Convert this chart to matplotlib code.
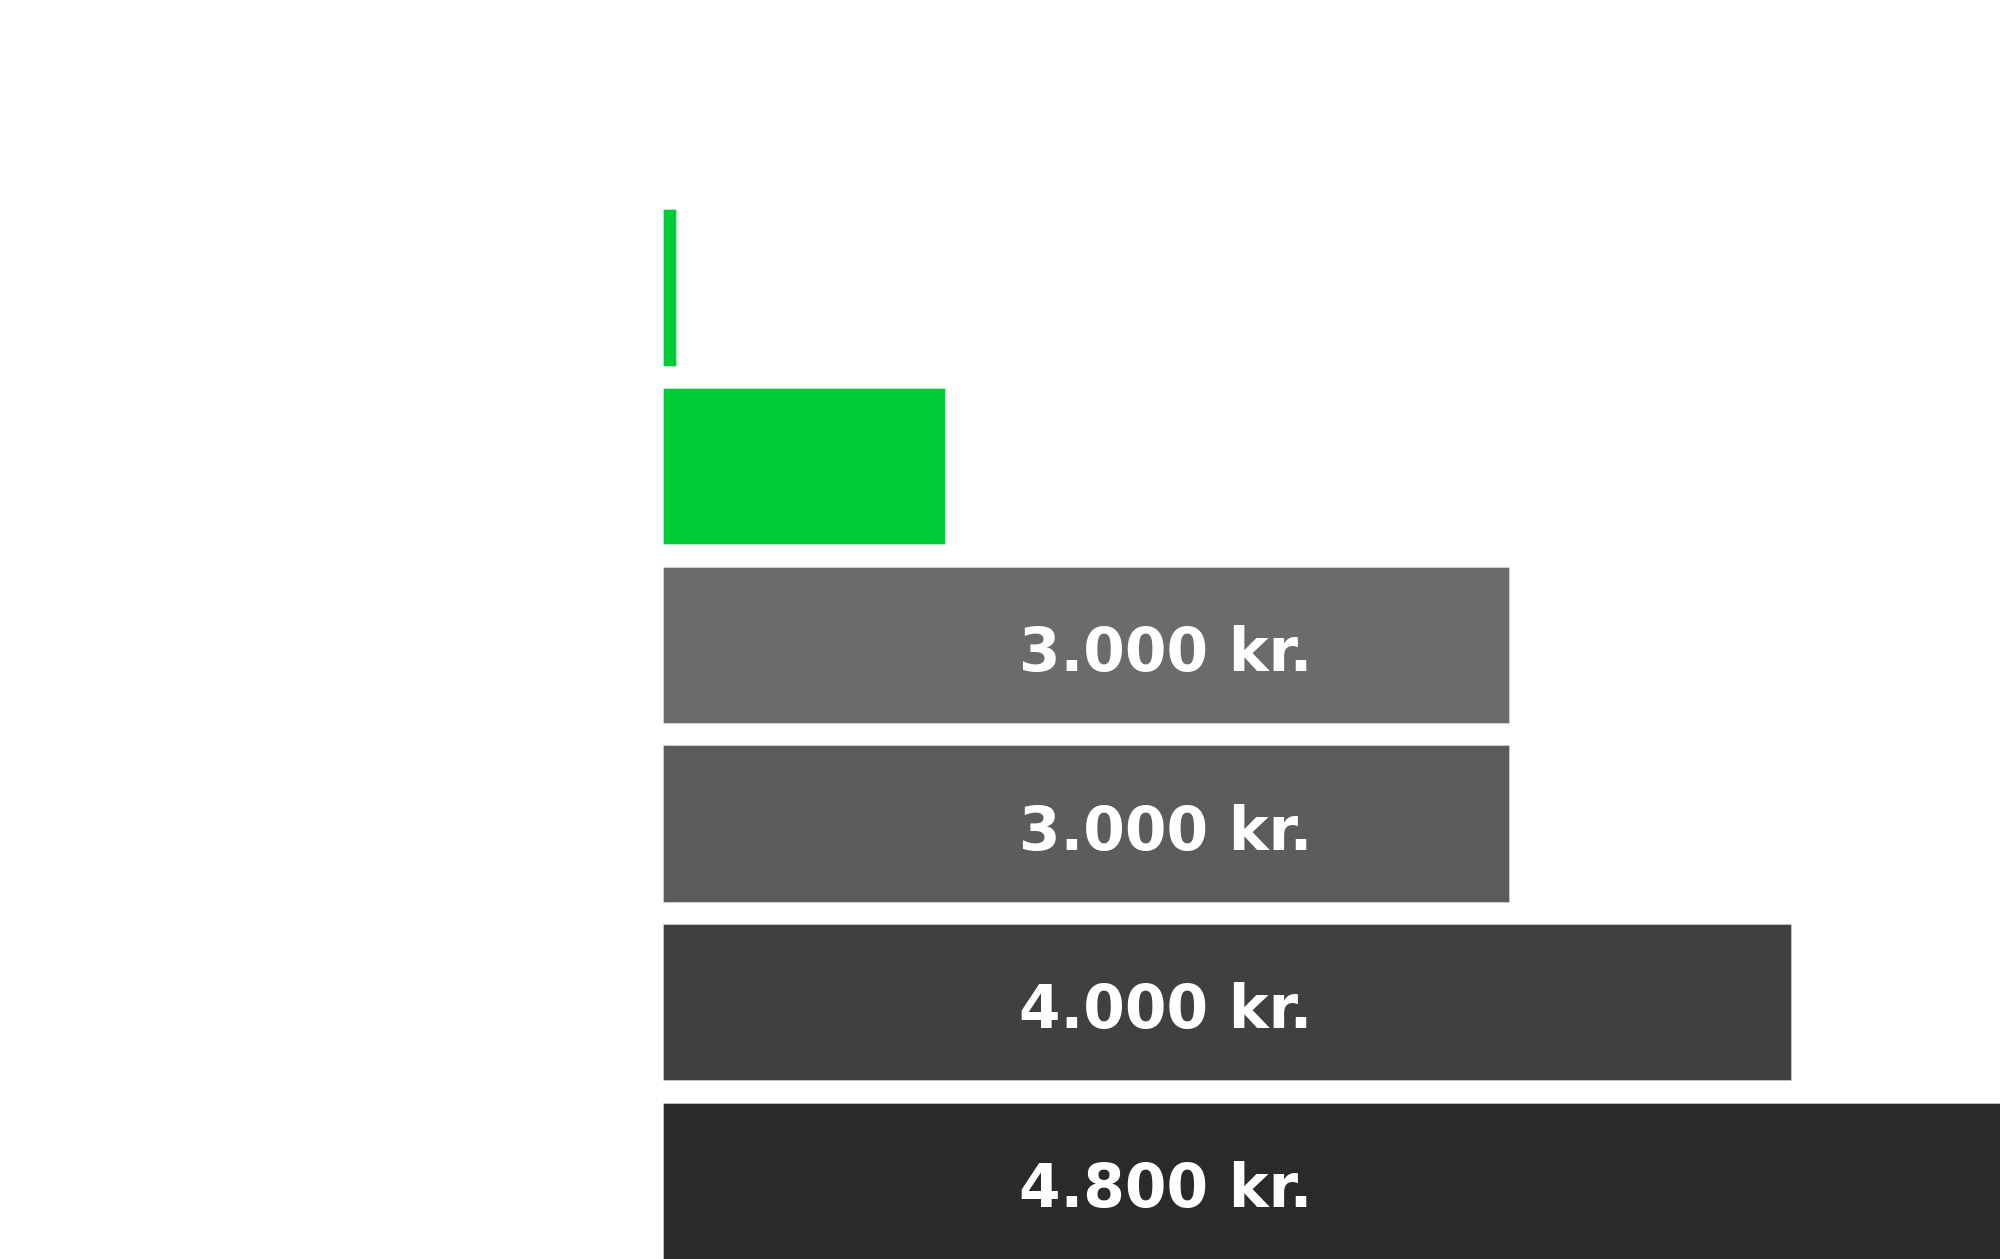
import matplotlib
matplotlib.use('Agg')
import matplotlib.pyplot as plt

# data
values = [45, 1000, 3000, 3000, 4000, 4800]
labels = ['', '', '3.000 kr.', '3.000 kr.', '4.000 kr.', '4.800 kr.']
colors = ['#00CC38', '#00CC38', '#6B6B6B', '#5C5C5C', '#404040', '#2A2A2A']

LABEL_X = 1262          # all labels start at the same x
BAR_H = 0.875

fig = plt.figure(figsize=(20, 12.59), dpi=100)
ax = fig.add_axes([0.3315, 0.0, 0.705, 1.0])

pos = list(range(len(values)))
ax.barh(pos, values, height=BAR_H, color=colors,
        edgecolor=(1, 1, 1, 0.35), linewidth=0.8)

for i, lab in enumerate(labels):
    if lab:
        ax.text(LABEL_X, i + 0.146, lab, color='white', fontsize=43,
                fontweight='bold', ha='left', va='baseline',
                family='DejaVu Sans')

ax.set_xlim(0, 5000)
ax.set_ylim(5.4377, -1.6096)
ax.axis('off')

fig.savefig('out.png', dpi=100)
